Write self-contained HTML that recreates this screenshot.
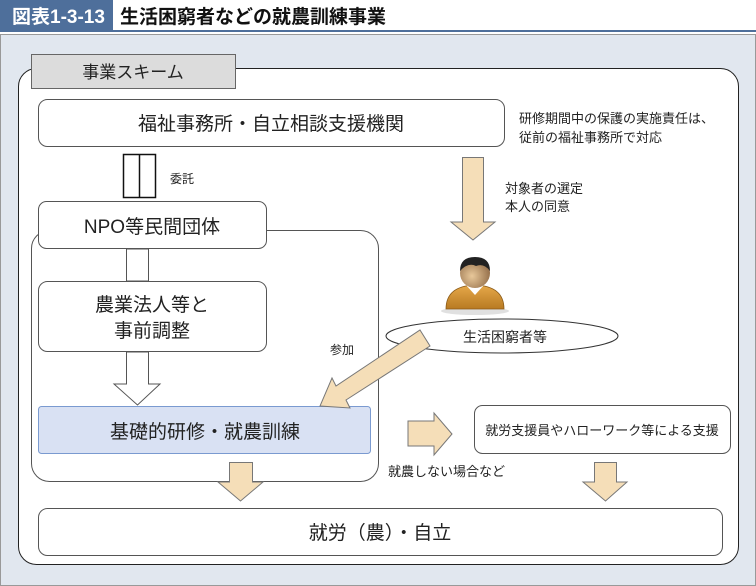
<!DOCTYPE html>
<html><head><meta charset="utf-8"><style>
html,body{margin:0;padding:0;background:#fff;}
svg{display:block;font-family:"Liberation Sans","Noto Sans CJK JP",sans-serif;}
</style></head><body>
<svg width="756" height="586" viewBox="0 0 756 586" xmlns="http://www.w3.org/2000/svg">
<defs>
<radialGradient id="hd" cx="0.4" cy="0.6" r="0.7"><stop offset="0" stop-color="#e8c89a"/><stop offset="1" stop-color="#8a6440"/></radialGradient>
<linearGradient id="bd" x1="0" y1="0" x2="0" y2="1"><stop offset="0" stop-color="#e6a94a"/><stop offset="1" stop-color="#b87a22"/></linearGradient>
</defs>
<!-- header -->
<rect x="0" y="0" width="756" height="31" fill="#fff"/>
<rect x="0" y="0" width="113" height="31" fill="#4e6f9b"/>
<text x="12" y="23" font-size="19" font-weight="bold" fill="#fff">図表1-3-13</text>
<text x="120" y="23" font-size="19" font-weight="bold" fill="#111">生活困窮者などの就農訓練事業</text>
<line x1="0" y1="31" x2="756" y2="31" stroke="#4e6f9b" stroke-width="2"/>
<!-- background -->
<rect x="0.5" y="34.5" width="755" height="551" fill="#e1e7ef" stroke="#999"/>
<!-- outer white -->
<rect x="18.5" y="68.5" width="720" height="496" rx="18" fill="#fff" stroke="#222"/>
<rect x="31.5" y="54.5" width="204" height="34" fill="#dcdcdc" stroke="#666"/>
<text x="133" y="78" font-size="17" text-anchor="middle" fill="#222">事業スキーム</text>
<!-- top box -->
<rect x="38.5" y="99.5" width="466" height="47" rx="9" fill="#fff" stroke="#555"/>
<text x="271" y="130" font-size="19" text-anchor="middle" fill="#222">福祉事務所・自立相談支援機関</text>
<text x="519" y="123" font-size="13" fill="#222">研修期間中の保護の実施責任は、</text>
<text x="519" y="142" font-size="13" fill="#222">従前の福祉事務所で対応</text>
<!-- double line -->
<rect x="123.5" y="154.5" width="32" height="43" fill="#fff" stroke="#111" stroke-width="1.5"/>
<line x1="139.5" y1="154" x2="139.5" y2="198" stroke="#111" stroke-width="1.5"/>
<text x="170" y="183" font-size="12" fill="#222">委託</text>
<!-- beige down arrow top -->
<polygon points="462.5,157.5 483.5,157.5 483.5,222 495,222 473,240 451,222 462.5,222" fill="#f5deb8" stroke="#777"/>
<text x="505" y="193" font-size="13" fill="#222">対象者の選定</text>
<text x="505" y="211" font-size="13" fill="#222">本人の同意</text>
<!-- big inner rect -->
<rect x="31.5" y="230.5" width="347" height="251" rx="18" fill="#fff" stroke="#555"/>
<!-- NPO -->
<rect x="38.5" y="201.5" width="228" height="47" rx="8" fill="#fff" stroke="#555"/>
<text x="152" y="233" font-size="19" text-anchor="middle" fill="#222">NPO等民間団体</text>
<rect x="126.5" y="249" width="22" height="32" fill="#fff" stroke="#555"/>
<!-- 農業法人 -->
<rect x="38.5" y="281.5" width="228" height="70" rx="9" fill="#fff" stroke="#555"/>
<text x="152" y="311" font-size="19" text-anchor="middle" fill="#222">農業法人等と</text>
<text x="152" y="337" font-size="19" text-anchor="middle" fill="#222">事前調整</text>
<polygon points="126.5,352 148.5,352 148.5,384 160,384 137.5,405 114,384 126.5,384" fill="#fff" stroke="#555"/>
<!-- 基礎的研修 -->
<rect x="38.5" y="406.5" width="332" height="47" rx="3" fill="#d9e1f3" stroke="#7a9ad0"/>
<text x="205" y="438" font-size="19" text-anchor="middle" fill="#222">基礎的研修・就農訓練</text>
<!-- person -->
<ellipse cx="475" cy="311" rx="34" ry="4" fill="#ccc" opacity="0.6"/>
<path d="M446,309 Q446,286 475,285 Q504,286 504,309 Z" fill="url(#bd)" stroke="#8a5a18" stroke-width="0.8"/>
<path d="M466,285 L475,295 L484,285 Z" fill="#fff"/>
<circle cx="475" cy="273" r="15" fill="url(#hd)"/>
<path d="M460,271 Q460,257 475,257 Q490,257 490,271 Q484,263 476,266 Q468,262 460,271 Z" fill="#222"/>
<!-- ellipse -->
<ellipse cx="502" cy="336" rx="116" ry="17" fill="#fff" stroke="#333"/>
<text x="505" y="342" font-size="14" text-anchor="middle" fill="#222">生活困窮者等</text>
<!-- diagonal arrow -->
<polygon points="420,330 430,346 346,400 350,408 320,406 332,378 336,386" fill="#f5deb8" stroke="#777"/>
<text x="330" y="354" font-size="12" fill="#222">参加</text>
<!-- right arrow -->
<polygon points="408,421 434,421 434,413 452,434 434,455 434,446 408,446" fill="#f5deb8" stroke="#777"/>
<rect x="474.5" y="405.5" width="256" height="48" rx="8" fill="#fff" stroke="#555"/>
<text x="602" y="435" font-size="13" text-anchor="middle" fill="#222">就労支援員やハローワーク等による支援</text>
<text x="388" y="476" font-size="13" fill="#222">就農しない場合など</text>
<!-- bottom arrows -->
<polygon points="229.5,462.5 252.5,462.5 252.5,482 263,482 240.5,501 218,482 229.5,482" fill="#f5deb8" stroke="#777"/>
<polygon points="594.5,462.5 616.5,462.5 616.5,482 627,482 605.5,501 583,482 594.5,482" fill="#f5deb8" stroke="#777"/>
<!-- bottom box -->
<rect x="38.5" y="508.5" width="684" height="47" rx="9" fill="#fff" stroke="#555"/>
<text x="380" y="539" font-size="19" text-anchor="middle" fill="#222">就労（農）・自立</text>
</svg>
</body></html>
